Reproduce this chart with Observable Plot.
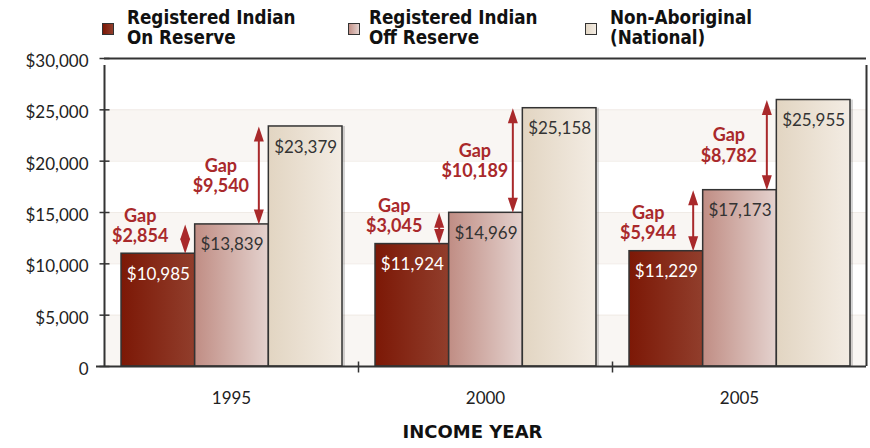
<!DOCTYPE html>
<html><head><meta charset="utf-8">
<script src="https://cdn.jsdelivr.net/npm/d3@7"></script>
<script src="https://cdn.jsdelivr.net/npm/@observablehq/plot@0.6"></script>
<style>
body{margin:0;background:#fff;}
#legend{position:relative;height:50px;width:870px;font-family:"DejaVu Sans Condensed","DejaVu Sans";font-weight:bold;font-size:18.7px;line-height:20px;color:#111;}
.sw{position:absolute;width:10px;height:10px;border:1px solid #333;top:23px;}
.lt{position:absolute;top:8px;white-space:nowrap;}
</style>
</head><body>
<div id="legend"></div>
<div id="chart"></div>
<script>
// ---- data ----
const years = ["1995", "2000", "2005"];
const onReserve = [10985, 11924, 11229];
const offReserve = [13839, 14969, 17173];
const nonAboriginal = [23379, 25158, 25955];
const seriesNames = [["Registered Indian", "On Reserve"], ["Registered Indian", "Off Reserve"], ["Non-Aboriginal", "(National)"]];
const yTicks = [0, 5000, 10000, 15000, 20000, 25000, 30000];
const xTitle = "INCOME YEAR";

// ---- layout helpers ----
const PAD = 0.067, BW = 0.29;
const seriesValues = [onReserve, offReserve, nonAboriginal];
const grads = ["g1", "g2", "g3"];
const textColors = ["#ffffff", "#333333", "#333333"];
const gapColor = "#a9292b";
const fmt = d => "$" + d3.format(",")(d);

const barsBySeries = seriesValues.map((vals, s) => vals.map((v, i) => ({
  x1: i + PAD + s * BW, x2: i + PAD + (s + 1) * BW, y: v, label: fmt(v), s
})));

const gaps1 = years.map((yr, i) => ({x: i + PAD + BW, lo: onReserve[i], hi: offReserve[i], label: "Gap\n" + fmt(offReserve[i] - onReserve[i])}));
const gaps2 = years.map((yr, i) => ({x: i + PAD + 2 * BW, lo: offReserve[i], hi: nonAboriginal[i], label: "Gap\n" + fmt(nonAboriginal[i] - offReserve[i])}));
const gaps = gaps1.concat(gaps2);

const bands = [[0, 5000], [10000, 15000], [20000, 25000]];

// ---- legend ----
const legend = document.getElementById("legend");
const swX = [102, 348, 585], txX = [127, 369, 610];
const swFill = ["linear-gradient(90deg,#7c1806,#913e2c)", "linear-gradient(90deg,#c39188,#e4d2ce)", "linear-gradient(90deg,#e3d7c5,#f3ece3)"];
seriesNames.forEach((n, k) => {
  const sw = document.createElement("div"); sw.className = "sw";
  sw.style.left = swX[k] + "px"; sw.style.background = swFill[k];
  legend.appendChild(sw);
  const t = document.createElement("div"); t.className = "lt";
  t.style.left = txX[k] + "px"; t.innerHTML = n[0] + "<br>" + n[1];
  legend.appendChild(t);
});

// ---- symbols ----
const hTick = {draw(c) { c.moveTo(-5, 0); c.lineTo(5, 0); }};
const vTick = {draw(c) { c.moveTo(0, -5); c.lineTo(0, 6); }};
const headUp = {draw(c) { c.moveTo(0, 0); c.lineTo(5, 15); c.lineTo(-5, 15); c.closePath(); }};
const headDown = {draw(c) { c.moveTo(0, 0); c.lineTo(5, -15); c.lineTo(-5, -15); c.closePath(); }};

const defs = () => {
  const d = d3.create("svg:defs");
  const stops = [["#7c1806", "#913e2c"], ["#c08d84", "#e4d2ce"], ["#e2d5c2", "#f3ece3"]];
  stops.forEach((st, k) => {
    const g = d.append("linearGradient").attr("id", grads[k]).attr("x1", "0").attr("x2", "1").attr("y1", "0").attr("y2", "0");
    g.append("stop").attr("offset", "0").attr("stop-color", st[0]);
    g.append("stop").attr("offset", "1").attr("stop-color", st[1]);
  });
  return d.node();
};

const numFont = "Lato";
const marks = [
  defs,
  Plot.rectY(bands, {x1: 0, x2: 3, y1: d => d[0], y2: d => d[1], fill: "#f9f6f3"}),
  Plot.ruleY(yTicks.slice(1, -1), {stroke: "#f0ebe6"}),
];
barsBySeries.forEach((bars) => {
  marks.push(Plot.rectY(bars, {x1: "x1", x2: "x2", y1: 0, y2: "y", fill: "#000", fillOpacity: 0.16, dx: 3}));
});
barsBySeries.forEach((bars, s) => {
  marks.push(Plot.rectY(bars, {x1: "x1", x2: "x2", y1: 0, y2: "y", fill: `url(#${grads[s]})`, stroke: "#333", strokeWidth: 1.5}));
  marks.push(Plot.text(bars, {x: d => (d.x1 + d.x2) / 2, y: "y", text: "label", lineAnchor: "top", dy: 14, fill: textColors[s], fontFamily: numFont, fontSize: 17}));
});
marks.push(
  // frame / axes
  Plot.ruleY([30000], {stroke: "#333", strokeWidth: 2}),
  Plot.ruleX([3], {y1: 0, y2: 30000, stroke: "#333", strokeWidth: 2, insetBottom: -7}),
  Plot.ruleX([0], {y1: 0, y2: 30000, stroke: "#333", strokeWidth: 2, insetBottom: -7}),
  Plot.ruleY([0], {stroke: "#333", strokeWidth: 2, insetLeft: -8}),
  Plot.dot(yTicks, {x: 0, y: d => d, symbol: hTick, fill: "none", stroke: "#333", strokeWidth: 1.5}),
  Plot.dot([1, 2], {x: d => d, y: 0, symbol: vTick, fill: "none", stroke: "#333", strokeWidth: 1.5}),
  Plot.text(yTicks, {x: 0, y: d => d, text: d => d === 0 ? "0" : fmt(d), textAnchor: "end", dx: -16, dy: 3, fill: "#222", fontFamily: numFont, fontSize: 17}),
  Plot.text(years, {x: (d, i) => i + 0.5, y: 0, text: d => d, dy: 32, fill: "#222", fontFamily: numFont, fontSize: 17}),
  Plot.text([xTitle], {frameAnchor: "bottom", text: d => d, dx: -13, dy: 71, fill: "#111", fontFamily: "DejaVu Sans", fontWeight: "bold", fontSize: 18}),
  // gap arrows
  Plot.ruleX(gaps, {x: "x", y1: "hi", y2: "lo", dx: -10, stroke: gapColor, strokeWidth: 2, insetTop: 5, insetBottom: 5}),
  Plot.dot(gaps, {x: "x", y: "hi", dx: -10, symbol: headUp, fill: gapColor, stroke: "none"}),
  Plot.dot(gaps, {x: "x", y: "lo", dx: -10, symbol: headDown, fill: gapColor, stroke: "none"}),
  Plot.text(gaps1, {x: "x", y: "lo", text: "label", dx: -55, dy: -12, lineAnchor: "bottom", lineHeight: 1.12, fill: gapColor, fontFamily: numFont, fontWeight: "bold", fontSize: 18}),
  Plot.text(gaps2, {x: "x", y: d => (d.lo + d.hi) / 2, text: "label", dx: -48, lineAnchor: "middle", lineHeight: 1.12, fill: gapColor, fontFamily: numFont, fontWeight: "bold", fontSize: 18})
);

const chart = Plot.plot({
  width: 870, height: 398,
  marginTop: 8, marginBottom: 82, marginLeft: 104, marginRight: 4,
  x: {domain: [0, 3], axis: null},
  y: {domain: [0, 30000], axis: null},
  style: {background: "transparent", overflow: "visible"},
  marks
});
document.getElementById("chart").appendChild(chart);
</script>
</body></html>
